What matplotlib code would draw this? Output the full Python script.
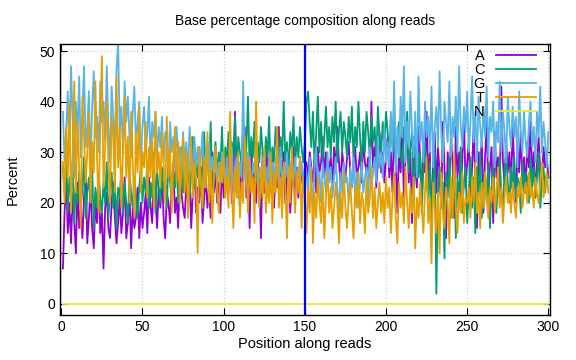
import matplotlib
matplotlib.use("Agg")
import matplotlib.pyplot as plt
import numpy as np

A = [7, 18, 25, 14, 20, 12, 22, 16, 10, 24, 15, 19, 13, 21, 27, 12, 17, 23, 15, 11, 20, 16, 25, 14, 18,
     7, 19, 22, 15, 13, 20, 24, 17, 12, 16, 21, 14, 18, 25, 13, 16, 22, 11, 19, 15, 17, 23, 13, 20, 15,
     18, 22, 14, 25, 19, 16, 27, 21, 15, 23, 19, 26, 17, 13, 22, 20, 16, 24, 28, 18, 21, 15, 26, 22, 19,
     17, 24, 20, 26, 15, 22, 29, 18, 23, 20, 27, 16, 21, 25, 19, 23, 17, 30, 22, 26, 20, 24, 18, 28, 21,
     30, 23, 27, 33, 20, 25, 38, 22, 26, 19, 29, 24, 35, 21, 27, 15, 31, 23, 26, 20, 28, 24, 13, 30, 22,
     26, 32, 21, 25, 29, 19, 27, 23, 35, 22, 26, 30, 20, 25, 28, 18, 24, 31, 22, 27, 21, 29, 25, 23, 27,
     28, 25, 30, 27, 24, 29, 22, 31, 26, 28, 33, 25, 30, 24, 27, 29, 23, 31, 26, 35, 28, 24, 30, 27, 25,
     29, 32, 26, 23, 28, 31, 25, 27, 30, 24, 33, 28, 26, 29, 25, 40, 27, 31, 23, 28, 34, 26, 30, 24, 29,
     33, 25, 30, 22, 36, 28, 18, 31, 26, 34, 21, 29, 37, 24, 30, 16, 33, 27, 23, 35, 29, 20, 32, 26, 38,
     24, 30, 15, 28, 34, 22, 31, 26, 19, 36, 27, 13, 30, 24, 33, 28, 17, 35, 25, 30, 21, 29, 37, 23, 28,
     32, 20, 27, 35, 24, 15, 30, 26, 33, 18, 29, 36, 22, 27, 31, 16, 34, 25, 29, 21, 43, 28, 24, 32, 26,
     30, 23, 35, 27, 20, 31, 26, 34, 24, 29, 22, 32, 27, 36, 25, 30, 21, 28, 33, 26, 24, 31, 27, 29, 25]

C = [27, 22, 30, 18, 25, 21, 28, 16, 24, 20, 26, 19, 23, 29, 17, 22, 25, 20, 27, 15, 23, 19, 26, 21, 18,
     24, 20, 28, 17, 22, 26, 19, 25, 15, 23, 21, 27, 18, 24, 20, 16, 26, 22, 19, 25, 21, 17, 23, 27, 20,
     25, 22, 28, 19, 24, 21, 30, 18, 26, 23, 20, 27, 22, 25, 19, 29, 24, 21, 26, 23, 28, 20, 25, 31, 22,
     27, 24, 30, 21, 26, 33, 23, 28, 25, 31, 22, 27, 34, 24, 29, 26, 36, 23, 28, 32, 25, 30, 27, 35, 24,
     31, 28, 34, 26, 32, 29, 37, 25, 33, 30, 28, 35, 27, 31, 41, 26, 33, 29, 36, 24, 32, 28, 35, 30, 27,
     33, 29, 37, 26, 31, 28, 35, 30, 27, 33, 29, 40, 28, 32, 26, 34, 30, 37, 27, 33, 29, 35, 31, 28, 32,
     40, 42, 36, 31, 38, 27, 34, 41, 30, 36, 28, 33, 39, 31, 35, 29, 37, 32, 40, 28, 34, 38, 30, 36, 33,
     29, 37, 32, 39, 28, 35, 31, 40, 33, 27, 36, 30, 38, 34, 29, 37, 32, 35, 28, 39, 33, 30, 36, 31, 38,
     34, 29, 37, 31, 40, 28, 33, 36, 30, 27, 35, 32, 38, 26, 31, 34, 22, 29, 33, 25, 30, 18, 27, 32, 24,
     21, 28, 15, 25, 30, 2, 22, 27, 19, 24, 9, 26, 21, 29, 17, 23, 28, 13, 25, 20, 31, 18, 24, 27, 16,
     22, 29, 19, 25, 14, 27, 21, 30, 17, 24, 26, 20, 28, 15, 23, 27, 21, 18, 25, 29, 22, 19, 26, 30, 24,
     20, 27, 23, 29, 21, 25, 24, 18, 28, 22, 26, 25, 20, 29, 23, 27, 21, 25, 30, 19, 24, 27, 22, 26, 25]

G = [38, 28, 34, 42, 30, 47, 36, 25, 40, 33, 45, 29, 38, 47, 31, 35, 42, 27, 39, 46, 33, 37, 30, 44, 36,
     40, 32, 47, 35, 28, 43, 37, 31, 46, 52, 34, 39, 30, 44, 36, 41, 33, 29, 38, 43, 31, 36, 40, 28, 35,
     39, 30, 34, 41, 27, 36, 33, 38, 29, 35, 31, 37, 28, 34, 32, 26, 36, 30, 33, 27, 35, 29, 31, 25, 34,
     28, 32, 26, 35, 30, 24, 33, 27, 31, 25, 29, 34, 23, 30, 27, 32, 24, 29, 26, 31, 23, 28, 25, 30, 27,
     24, 29, 22, 27, 31, 23, 26, 29, 21, 28, 25, 44, 27, 23, 30, 25, 22, 28, 26, 31, 24, 27, 22, 29, 25,
     27, 23, 30, 25, 28, 22, 29, 26, 24, 31, 23, 27, 25, 30, 22, 28, 26, 24, 29, 23, 27, 25, 28, 24, 26,
     26, 22, 29, 24, 19, 27, 31, 23, 26, 20, 28, 25, 22, 30, 24, 27, 21, 25, 29, 23, 18, 26, 22, 28, 24,
     25, 20, 27, 23, 29, 21, 26, 19, 24, 28, 22, 25, 27, 20, 31, 23, 26, 29, 24, 33, 27, 30, 25, 35, 28,
     32, 27, 38, 30, 44, 26, 35, 29, 41, 33, 47, 28, 36, 31, 42, 34, 29, 38, 25, 45, 32, 36, 28, 40, 33,
     37, 30, 43, 27, 35, 39, 31, 46, 34, 28, 40, 36, 32, 44, 29, 37, 33, 41, 30, 47, 35, 31, 39, 34, 42,
     30, 36, 45, 32, 38, 28, 41, 35, 31, 39, 33, 43, 29, 37, 34, 40, 27, 36, 32, 44, 30, 38, 34, 28, 41,
     35, 31, 39, 33, 37, 27, 42, 34, 30, 38, 32, 29, 36, 40, 31, 35, 28, 38, 33, 43, 30, 36, 32, 27, 34]

T = [28, 20, 35, 25, 40, 18, 30, 44, 22, 36, 27, 15, 41, 33, 24, 30, 38, 20, 32, 26, 44, 29, 18, 35, 49,
     23, 31, 40, 28, 20, 37, 33, 22, 45, 27, 35, 19, 30, 41, 25, 33, 20, 38, 28, 17, 34, 26, 39, 22, 30,
     27, 36, 21, 31, 25, 33, 19, 38, 26, 30, 23, 34, 28, 20, 37, 25, 31, 18, 29, 35, 24, 32, 20, 27, 33,
     22, 30, 17, 26, 33, 21, 28, 25, 10, 31, 24, 19, 29, 23, 34, 20, 27, 16, 25, 31, 22, 18, 28, 24, 30,
     21, 25, 19, 38, 23, 15, 27, 21, 30, 17, 24, 20, 33, 26, 18, 29, 22, 25, 16, 40, 23, 19, 27, 21, 31,
     18, 24, 20, 30, 16, 26, 22, 35, 19, 25, 17, 28, 23, 13, 27, 20, 31, 24, 18, 26, 22, 29, 15, 25, 21,
     14, 23, 18, 27, 12, 22, 17, 25, 20, 16, 24, 13, 21, 26, 18, 23, 15, 19, 24, 20, 12, 22, 17, 26, 19,
     15, 21, 24, 18, 13, 23, 19, 26, 16, 22, 20, 14, 25, 18, 21, 27, 17, 23, 15, 20, 24, 18, 22, 16, 25,
     19, 23, 14, 21, 26, 17, 12, 24, 19, 22, 16, 27, 20, 15, 23, 18, 25, 11, 21, 17, 24, 19, 14, 22, 29,
     16, 21, 8, 24, 19, 14, 22, 10, 26, 18, 15, 23, 20, 12, 25, 17, 30, 19, 14, 22, 18, 26, 16, 21, 20,
     23, 17, 25, 20, 28, 18, 22, 15, 24, 19, 26, 21, 17, 23, 20, 25, 18, 22, 27, 19, 23, 16, 21, 25, 20,
     22, 18, 24, 20, 17, 23, 21, 25, 19, 22, 24, 20, 26, 21, 23, 19, 25, 22, 20, 24, 28, 21, 23, 26, 22]

N = [0] * 300
positions = list(range(1, 301))
read_boundary = 150

series = [("A", A, "#9400D3"), ("C", C, "#009E73"), ("G", G, "#56B4E9"),
          ("T", T, "#E69F00"), ("N", N, "#F0E442")]

plt.rcParams['font.family'] = ['Liberation Sans', 'DejaVu Sans']
fig = plt.figure(figsize=(5.76, 3.6), dpi=100)
ax = fig.add_axes([60/576, 1 - 315/360, (550-60)/576, (315-44)/360])

for name, vals, col in series:
    ax.plot(positions, vals, color=col, lw=1.3, label=name)

ax.axvline(read_boundary, color="#0000ff", lw=1.6)

ax.set_xlim(-0.8, 301)
ax.set_ylim(-2.2, 51.4)
ax.set_xticks(range(0, 301, 50))
ax.set_yticks(range(0, 51, 10))
ax.grid(True, color="#c8c8c8", linestyle=(0, (1, 2)), lw=0.8)
ax.tick_params(direction="in", top=True, right=True, length=5, labelsize=10, width=0.8)
for s in ax.spines.values():
    s.set_linewidth(1.0)
ax.set_xlabel("Position along reads", fontsize=10.5, labelpad=2)
ax.set_ylabel("Percent", fontsize=10.5, labelpad=14)
ax.set_title("Base percentage composition along reads", fontsize=10, pad=14)

leg = ax.legend(loc="upper right", markerfirst=False, frameon=False, labelspacing=0.0,
                handlelength=2.75, handletextpad=0.75, fontsize=10.5,
                bbox_to_anchor=(0.992, 1.018), borderaxespad=0.3)

fig.savefig("out.png", dpi=100)
